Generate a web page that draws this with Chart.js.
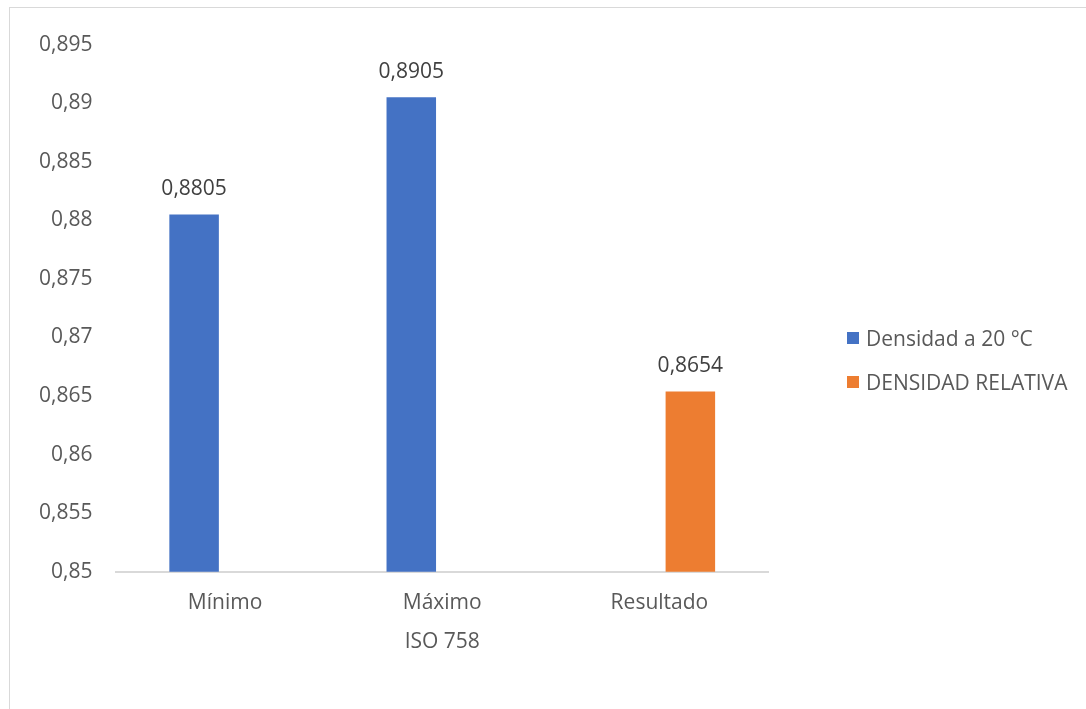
<!DOCTYPE html>
<html lang="es">
<head>
    <meta charset="UTF-8">
    <title>ISO 758 - Densidad</title>
    <script src="https://cdn.jsdelivr.net/npm/chart.js"></script>
    <style>
        html, body {
            margin: 0;
            padding: 0;
            background: #fff;
            overflow: hidden;
        }
        #frame {
            position: absolute;
            left: 9px;
            top: 7px;
            width: 1200px;
            height: 800px;
            border-left: 1px solid #d9d9d9;
            border-top: 1px solid #d9d9d9;
        }
        #chart {
            position: absolute;
            left: 0;
            top: 0;
        }
        #legend {
            position: absolute;
            left: 837px;
            top: 308px;
            font-family: "Open Sans", sans-serif;
            font-size: 21px;
            color: #595959;
        }
        #legend ul {
            list-style: none;
            margin: 0;
            padding: 0;
        }
        #legend li {
            display: flex;
            align-items: center;
            height: 44px;
            white-space: nowrap;
        }
        #legend .box {
            display: inline-block;
            width: 12px;
            height: 12px;
            margin-right: 7px;
        }
    </style>
</head>
<body>

<div id="frame">
    <canvas id="chart" width="1077" height="702"></canvas>
    <div id="legend"></div>
</div>

<script>
const categories = ['Mínimo', 'Máximo', 'Resultado'];
const densidad20 = [0.8805, 0.8905, null];
const densidadRelativa = [null, null, 0.8654];
const seriesNames = ['Densidad a 20 °C', 'DENSIDAD RELATIVA'];
const axisTitle = 'ISO 758';

const FONT = '"Open Sans", sans-serif';
const TEXT = '#595959';

function comma(v, digits) {
    return Number(v.toFixed(digits)).toString().replace('.', ',');
}

// value labels above each bar
const barLabels = {
    id: 'barLabels',
    afterDatasetsDraw(chart) {
        const ctx = chart.ctx;
        ctx.save();
        ctx.font = '21px ' + FONT;
        ctx.fillStyle = '#404040';
        ctx.textAlign = 'center';
        ctx.textBaseline = 'middle';
        chart.data.datasets.forEach((ds, i) => {
            chart.getDatasetMeta(i).data.forEach((bar, j) => {
                if (ds.data[j] == null) return;
                ctx.fillText(comma(ds.data[j], 4), bar.x, bar.y - 25);
            });
        });
        ctx.restore();
    }
};

// legend drawn as html, items come from chart.js
const htmlLegend = {
    id: 'htmlLegend',
    afterUpdate(chart) {
        const el = document.getElementById('legend');
        el.innerHTML = '';
        const ul = document.createElement('ul');
        const items = chart.options.plugins.legend.labels.generateLabels(chart);
        items.forEach(item => {
            const li = document.createElement('li');
            const box = document.createElement('span');
            box.className = 'box';
            box.style.background = item.fillStyle;
            li.appendChild(box);
            li.appendChild(document.createTextNode(item.text));
            ul.appendChild(li);
        });
        el.appendChild(ul);
    }
};

const ctx = document.getElementById('chart').getContext('2d');
new Chart(ctx, {
    type: 'bar',
    data: {
        labels: categories,
        datasets: [
            {
                label: seriesNames[0],
                data: densidad20,
                backgroundColor: '#4472C4'
            },
            {
                label: seriesNames[1],
                data: densidadRelativa,
                backgroundColor: '#ED7D31'
            }
        ]
    },
    options: {
        responsive: false,
        animation: false,
        categoryPercentage: 0.57,
        barPercentage: 0.8,
        layout: {
            padding: { left: 5, top: 36, right: 319, bottom: 57 }
        },
        plugins: {
            legend: { display: false },
            tooltip: { enabled: false }
        },
        scales: {
            x: {
                grid: { display: false, drawTicks: false },
                border: { display: true, color: '#d9d9d9', width: 2 },
                ticks: {
                    padding: 19,
                    color: TEXT,
                    font: { family: FONT, size: 21 }
                },
                title: {
                    display: true,
                    text: axisTitle,
                    color: TEXT,
                    font: { family: FONT, size: 21, lineHeight: 1.0 },
                    padding: { top: -3, bottom: 0 }
                }
            },
            y: {
                min: 0.85,
                max: 0.895,
                grid: { display: false, drawTicks: false },
                border: { display: false },
                ticks: {
                    stepSize: 0.005,
                    padding: 24,
                    color: TEXT,
                    font: { family: FONT, size: 21 },
                    callback: v => comma(v, 3)
                }
            }
        }
    },
    plugins: [barLabels, htmlLegend]
});
</script>

</body>
</html>
